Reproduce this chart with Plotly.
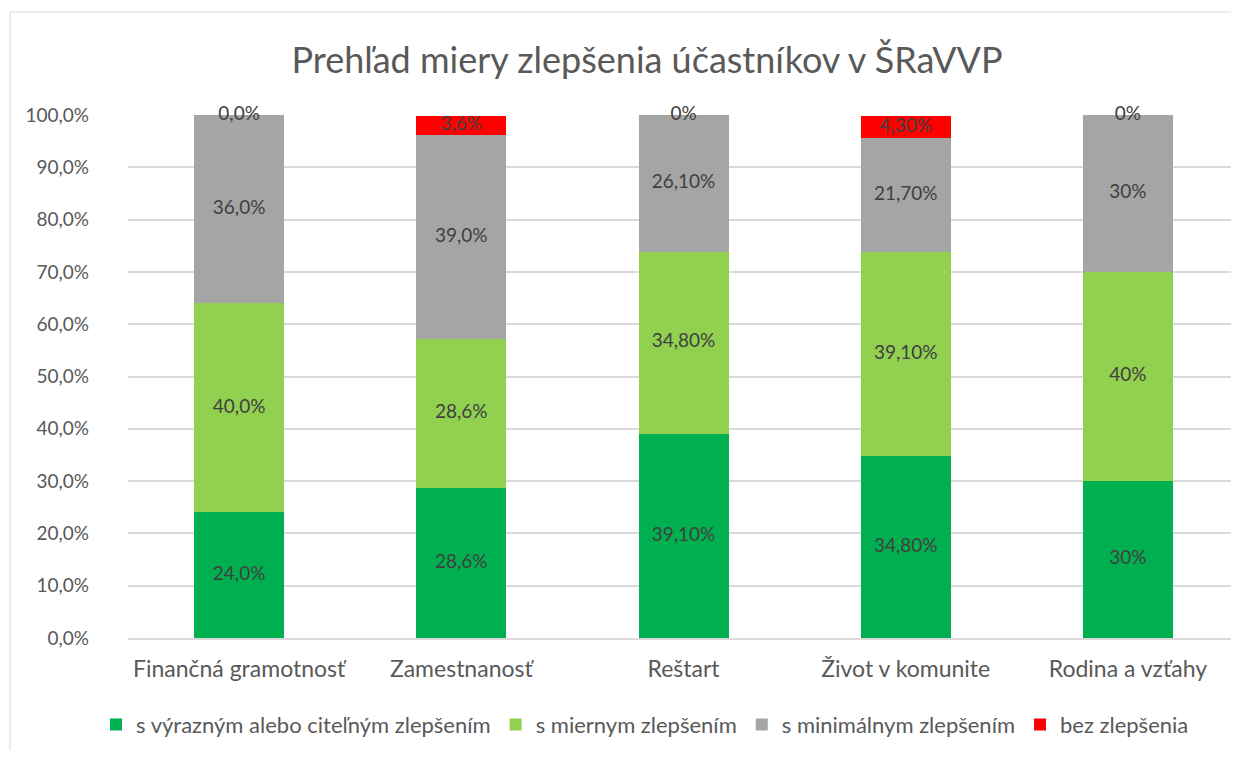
import plotly.graph_objects as go

categories = ["Finančná gramotnosť", "Zamestnanosť", "Reštart", "Život v komunite", "Rodina a vzťahy"]

series_names = ["s výrazným alebo citeľným zlepšením", "s miernym zlepšením",
                "s minimálnym zlepšením", "bez zlepšenia"]

vyrazne = [24.0, 28.6, 39.1, 34.8, 30.0]
mierne = [40.0, 28.6, 34.8, 39.1, 40.0]
minimalne = [36.0, 39.0, 26.1, 21.7, 30.0]
bez = [0.0, 3.6, 0.0, 4.3, 0.0]

vyrazne_labels = ["24,0%", "28,6%", "39,10%", "34,80%", "30%"]
mierne_labels = ["40,0%", "28,6%", "34,80%", "39,10%", "40%"]
minimalne_labels = ["36,0%", "39,0%", "26,10%", "21,70%", "30%"]
bez_labels = ["0,0%", "3,6%", "0%", "4,30%", "0%"]

y_ticks = [0, 10, 20, 30, 40, 50, 60, 70, 80, 90, 100]
y_tick_labels = ["0,0%", "10,0%", "20,0%", "30,0%", "40,0%", "50,0%",
                 "60,0%", "70,0%", "80,0%", "90,0%", "100,0%"]

colors = ["#00B050", "#92D050", "#A5A5A5", "#FF0000"]
FONT = "Lato, Open Sans, sans-serif"

series = [vyrazne, mierne, minimalne, bez]
labels = [vyrazne_labels, mierne_labels, minimalne_labels, bez_labels]

fig = go.Figure()
for name, vals, col in zip(series_names, series, colors):
    fig.add_trace(go.Bar(x=categories, y=vals, name=name, marker_color=col,
                         marker_line_width=0, width=0.405, hoverinfo="skip"))

# data labels centered in each segment
base = [0.0] * len(categories)
for vals, labs in zip(series, labels):
    mids = [b + v / 2 for b, v in zip(base, vals)]
    fig.add_trace(go.Scatter(x=categories, y=mids, mode="text", text=labs,
                             textposition="middle center",
                             textfont=dict(family=FONT, size=19, color="#404040"),
                             showlegend=False, hoverinfo="skip", cliponaxis=False))
    base = [b + v for b, v in zip(base, vals)]

W, H = 1223, 742
PW = W - 120  # plot width in px
UNIT = 1111 / 5  # px per category
fig.update_layout(
    width=W, height=H,
    barmode="stack",
    plot_bgcolor="white", paper_bgcolor="white",
    margin=dict(l=120, r=0, t=107, b=H - 630, autoexpand=False),
    font=dict(family=FONT, size=16, color="#595959"),
    title=dict(text="Prehľad miery zlepšenia účastníkov v ŠRaVVP",
               x=639 / W, xanchor="center", y=1 - 52 / H, yanchor="middle",
               font=dict(family=FONT, size=36, color="#595959")),
    legend=dict(orientation="h", x=(637 - 120) / PW, xanchor="center",
                y=-0.166, yanchor="middle",
                font=dict(family=FONT, size=22, color="#595959"),
                traceorder="normal", itemclick=False, itemwidth=30),
    showlegend=True,
    shapes=[dict(type="rect", xref="paper", yref="paper",
                 x0=(2 - 120) / PW, x1=1.2, y0=-0.4, y1=1 + (107 - 4) / 523,
                 line=dict(color="#D9D9D9", width=1), fillcolor="rgba(0,0,0,0)", layer="below")],
)
fig.update_xaxes(type="category", range=[-0.5, -0.5 + PW / UNIT], showgrid=False,
                 showline=True, linecolor="#D9D9D9", linewidth=1.5,
                 ticks="", tickfont=dict(family=FONT, size=23, color="#595959"),
                 ticklabelstandoff=10)
fig.update_yaxes(range=[0, 100], tickvals=y_ticks, ticktext=y_tick_labels,
                 showgrid=True, gridcolor="#D9D9D9", gridwidth=1.5,
                 zeroline=False, showline=False, ticks="",
                 tickfont=dict(family=FONT, size=19, color="#595959"),
                 ticklabelstandoff=38)

fig.write_html("out.html")
